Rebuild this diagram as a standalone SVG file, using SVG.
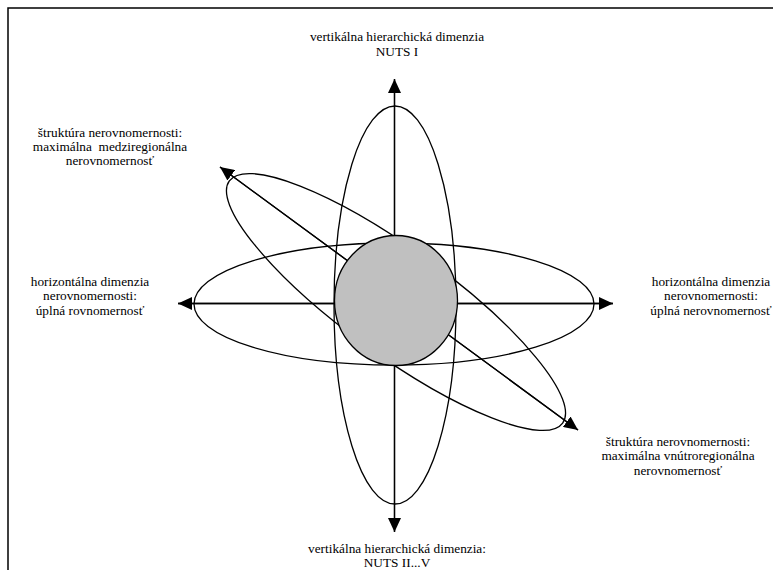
<svg xmlns="http://www.w3.org/2000/svg" width="773" height="570" viewBox="0 0 773 570">
<style>
text{font-family:"Liberation Serif","Times New Roman",serif;font-size:13.3px;fill:#000;text-anchor:middle}
.e{fill:none;stroke:#000;stroke-width:1.3}
.ax{stroke:#000;stroke-width:1.3;fill:none}
</style>
<defs>
<marker id="ah" viewBox="0 0 14 13" refX="14" refY="6.5" markerWidth="14" markerHeight="13" markerUnits="userSpaceOnUse" orient="auto">
<path d="M0,0 L14,6.5 L0,13 Z" fill="#000"/>
</marker>
</defs>
<rect width="773" height="570" fill="#fff"/>
<path d="M8,570 V8 H773" fill="none" stroke="#000" stroke-width="1.5"/>
<g id="ellipses">
<ellipse id="vertical-ellipse" class="e" cx="395" cy="305" rx="61" ry="199"/>
<ellipse id="horizontal-ellipse" class="e" cx="394" cy="304" rx="200" ry="61"/>
<ellipse id="diagonal-ellipse" class="e" cx="396" cy="302" rx="206" ry="53" transform="rotate(36 396 302)"/>
</g>
<g id="connectors">
<line class="ax" x1="394.5" y1="532" x2="394.5" y2="79" marker-end="url(#ah)"/>
<line class="ax" x1="394.5" y1="79" x2="394.5" y2="532" marker-end="url(#ah)"/>
<line class="ax" x1="613" y1="303.5" x2="178" y2="303.5" marker-end="url(#ah)"/>
<line class="ax" x1="178" y1="303.5" x2="613" y2="303.5" marker-end="url(#ah)"/>
<line class="ax" x1="578" y1="430" x2="220" y2="167" marker-end="url(#ah)"/>
<line class="ax" x1="220" y1="167" x2="578" y2="430" marker-end="url(#ah)"/>
</g>
<g id="center">
<ellipse cx="396" cy="300.5" rx="61.5" ry="65" fill="#c0c0c0" stroke="#000" stroke-width="1.3"/>
</g>
<g font-family="Liberation Serif, Times New Roman, serif">
<g id="label-top">
<text x="397" y="41">vertikálna hierarchická dimenzia</text>
<text x="397" y="56">NUTS I</text>
</g>
<g id="label-topleft">
<text x="110" y="137">štruktúra nerovnomernosti:</text>
<text x="110" y="151">maximálna &#160;medziregionálna</text>
<text x="110" y="165">nerovnomernosť</text>
</g>
<g id="label-left">
<text x="90" y="286">horizontálna dimenzia</text>
<text x="90" y="300">nerovnomernosti:</text>
<text x="90" y="315">úplná rovnomernosť</text>
</g>
<g id="label-right">
<text x="711" y="286">horizontálna dimenzia</text>
<text x="711" y="300">nerovnomernosti:</text>
<text x="711" y="315">úplná nerovnomernosť</text>
</g>
<g id="label-bottomright">
<text x="678" y="446">štruktúra nerovnomernosti:</text>
<text x="678" y="460">maximálna vnútroregionálna</text>
<text x="678" y="475">nerovnomernosť</text>
</g>
<g id="label-bottom">
<text x="397" y="553">vertikálna hierarchická dimenzia:</text>
<text x="397" y="567">NUTS II...V</text>
</g>
</g>
</svg>
